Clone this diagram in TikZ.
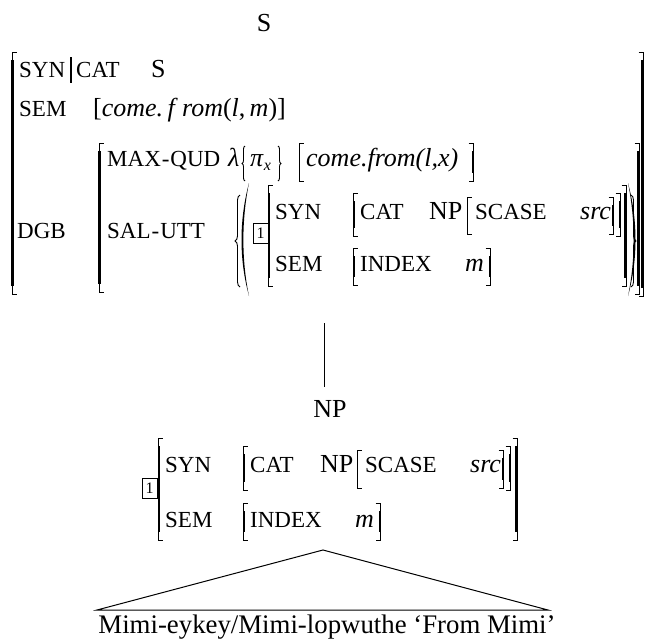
\documentclass[tikz,border=0pt]{standalone}
\usepackage{fontspec}
\setmainfont{Liberation Serif}
\usetikzlibrary{decorations.pathreplacing,calc}
\newcommand\labf{\fontsize{23}{23}\selectfont}
\newcommand\valf{\fontsize{26}{26}\selectfont}
\newcommand\catf{\fontsize{26}{26}\selectfont}
\newcommand\hy{\kern1pt-\kern1pt}
% left bracket: [thickness] x top bottom
\newcommand\brL[4][2.4]{%
  \draw[line width=0.9pt] (#2+4.5,#3) -- (#2,#3) -- (#2,#4) -- (#2+4.5,#4);
  \draw[line width=#1pt] (#2+0.75,#3+8) -- (#2+0.75,#4-8);}
\newcommand\brR[4][2.4]{%
  \draw[line width=0.9pt] (#2-4.5,#3) -- (#2,#3) -- (#2,#4) -- (#2-4.5,#4);
  \draw[line width=#1pt] (#2-0.75,#3+8) -- (#2-0.75,#4-8);}
\tikzset{
  lab/.style={anchor=base west, inner sep=0pt, font=\labf},
  val/.style={anchor=base west, inner sep=0pt, font=\valf},
  cat/.style={anchor=base, inner sep=0pt, font=\catf},
  tag/.style={draw, line width=0.8pt, inner sep=0pt, minimum width=15pt, minimum height=20pt, font=\fontsize{16}{16}\selectfont},
  lbrace/.style={line width=0.9pt, decorate, decoration={brace, amplitude=#1}},
  treeline/.style={line width=1pt}
}
\begin{document}
\begin{tikzpicture}[x=1pt,y=-1pt]
\useasboundingbox (0,0) rectangle (646,640);
% ---------- top node
\node[cat] (S0) at (264,31) {S};
% ---------- outer AVM
\brL[2.8]{12}{52}{294}
\brR[2.8]{643}{52}{296}
\node[lab] (syn1) at (19,77) {SYN};
\draw[line width=1.8pt] (71,57) -- (71,83);
\node[lab] (cat1) at (76,77) {CAT};
\node[val] (sval) at (151,77) {S};
\node[lab] (sem1) at (19,116) {SEM};
\node[val] (semval) at (93,116) {[\textit{come.}\,\textit{f}\,\textit{rom}(\textit{l},\,\textit{m})]};
\node[lab] (dgb) at (17,238) {DGB};
% ---------- DGB value
\brL[2.8]{99}{143}{292}
\brR[2.8]{639}{143}{294}
\node[lab] (mq) at (107,166) {MAX\hy QUD};
\node[val] (lam) at (228,166) {\textit{λ}};
\draw[lbrace=3pt] (245,181) -- (245,146);
\node[val] (pix) at (250,166) {\textit{π}\raisebox{-4pt}{\fontsize{16}{16}\selectfont\textit{x}}};
\draw[lbrace=3pt] (278,146) -- (278,181);
\brL[1.4]{299}{143}{181}
\node[val] (cf2) at (306,166) {\textit{come.from(l,x)}};
\brR[1.4]{473}{143}{181}
\node[lab] (su) at (107,238) {SAL\hy UTT};
% brace and paren
\draw[lbrace=5pt] (240,287) -- (240,195);
\fill (249,183) .. controls (239,220) and (239,260) .. (249,296) .. controls (241.5,260) and (241.5,220) .. (249,183) -- cycle;
\node[tag] (box1) at (260.5,233) {1};
% inner AVM (top)
\brL{268}{185}{286}
\node[lab] (syn2) at (275,219) {SYN};
\brL{353}{193}{236}
\node[lab] (cat2) at (360,219) {CAT};
\node[val] (np2) at (429,219) {NP};
\brL[1.2]{467}{197}{234}
\node[lab] (scase2) at (475,219) {SCASE};
\node[val] (src2) at (580,219) {\textit{src}};
\brR[1.2]{613}{197}{234}
\brR[1.2]{620}{193}{236}
\node[lab] (sem2) at (275,271) {SEM};
\brL{353}{248}{285}
\node[lab] (index2) at (360,271) {INDEX};
\node[val] (m2) at (465,271) {\textit{m}};
\brR[1.4]{490}{248}{285}
\brR{626}{185}{286}
\fill (628,183) .. controls (638,220) and (638,260) .. (628,296) .. controls (635.5,260) and (635.5,220) .. (628,183) -- cycle;
\draw[lbrace=5pt] (631,195) -- (631,287);
% ---------- connector
\coordinate (vtop) at (324,323);
\node[cat] (np) at (330,417) {NP};
\draw[treeline, shorten >=13pt] (vtop) -- (vtop |- np.north);
% ---------- lower AVM
\node[tag] (box2) at (149.5,488) {1};
\brL{158}{438}{540}
\node[lab] (syn3) at (165,472) {SYN};
\brL{243}{446}{490}
\node[lab] (cat3) at (250,472) {CAT};
\node[val] (np3) at (320,472) {NP};
\brL[1.2]{357}{450}{488}
\node[lab] (scase3) at (365,472) {SCASE};
\node[val] (src3) at (470,472) {\textit{src}};
\brR[1.2]{503}{450}{488}
\brR[1.2]{510}{446}{490}
\brR{517}{438}{540}
\node[lab] (sem3) at (165,527) {SEM};
\brL{243}{503}{540}
\node[lab] (index3) at (250,527) {INDEX};
\node[val] (m3) at (355,527) {\textit{m}};
\brR[1.4]{380}{503}{540}
% ---------- triangle
\coordinate (apex) at (323,550);
\coordinate (bl) at (97,610);
\coordinate (br) at (548,610);
\draw[treeline] (apex) -- (bl) -- (br) -- cycle;
\node[anchor=base, inner sep=0pt, font=\fontsize{26.8}{26.8}\selectfont] (mimi) at (327,633) {Mimi-eykey/Mimi-lopwuthe ‘From Mimi’};
\end{tikzpicture}
\end{document}
